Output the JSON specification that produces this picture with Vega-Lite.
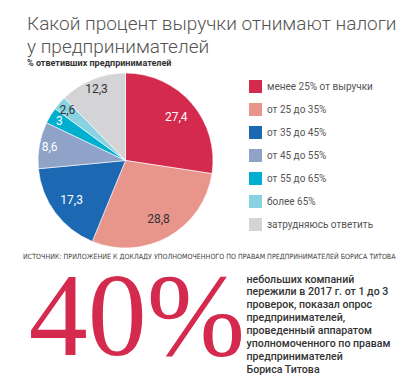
{
  "$schema": "https://vega.github.io/schema/vega-lite/v6.json",
  "padding": {"left": 23, "top": 14, "right": 6, "bottom": 2},
  "background": "white",
  "config": {
    "view": {"stroke": null},
    "locale": {"number": {"decimal": ",", "thousands": "\u00a0", "grouping": [3], "currency": ["", ""]}},
    "font": "Roboto"
  },
  "resolve": {"scale": {"color": "independent"}, "legend": {"color": "independent"}},
  "title": {
    "text": ["Какой процент выручки отнимают налоги", "у предпринимателей"],
    "subtitle": "% ответивших предпринимателей",
    "anchor": "start",
    "dx": 4,
    "font": "Roboto",
    "fontSize": 19,
    "fontWeight": 300,
    "color": "#555555",
    "lineHeight": 23,
    "subtitleFont": "Roboto",
    "subtitleFontSize": 9,
    "subtitleFontWeight": "bold",
    "subtitleColor": "#333333",
    "subtitlePadding": 2,
    "offset": 4
  },
  "vconcat": [
    {
      "width": 205,
      "height": 175,
      "data": {
        "values": [
          {"n": 1, "cat": "менее 25% от выручки", "value": 27.4},
          {"n": 2, "cat": "от 25 до 35%", "value": 28.8},
          {"n": 3, "cat": "от 35 до 45%", "value": 17.3},
          {"n": 4, "cat": "от 45 до 55%", "value": 8.6},
          {"n": 5, "cat": "от 55 до 65%", "value": 3},
          {"n": 6, "cat": "более 65%", "value": 2.6},
          {"n": 7, "cat": "затрудняюсь ответить", "value": 12.3}
        ]
      },
      "encoding": {
        "theta": {"field": "value", "type": "quantitative", "stack": true},
        "order": {"field": "n", "type": "quantitative"}
      },
      "layer": [
        {
          "mark": {"type": "arc", "stroke": "white", "strokeWidth": 0.6},
          "encoding": {
            "color": {
              "field": "cat",
              "type": "nominal",
              "sort": null,
              "scale": {
                "domain": ["менее 25% от выручки", "от 25 до 35%", "от 35 до 45%", "от 45 до 55%", "от 55 до 65%", "более 65%", "затрудняюсь ответить"],
                "range": ["#d42a4e", "#e8958b", "#1c68b3", "#8fa3c8", "#00aed0", "#88d2e2", "#d4d4d6"]
              },
              "legend": {
                "title": null,
                "orient": "right",
                "offset": 14,
                "padding": 7,
                "symbolType": "square",
                "symbolSize": 169,
                "symbolStrokeWidth": 0,
                "symbolOpacity": 1,
                "labelFontSize": 10,
                "labelFont": "Roboto",
                "labelColor": "#555555",
                "labelOffset": 5,
                "rowPadding": 10
              }
            }
          }
        },
        {
          "mark": {"type": "text", "radius": 67, "fontSize": 12, "font": "Roboto"},
          "encoding": {
            "text": {"condition": {"test": "datum.value >= 15", "field": "value", "type": "quantitative", "format": ".1~f"}, "value": ""},
            "color": {"condition": {"test": "datum.cat == 'от 25 до 35%' || datum.cat == 'более 65%' || datum.cat == 'затрудняюсь ответить'", "value": "#333333"}, "value": "white"}
          }
        },
        {
          "mark": {"type": "text", "radius": 77, "fontSize": 12, "font": "Roboto"},
          "encoding": {
            "text": {"condition": {"test": "datum.value < 15", "field": "value", "type": "quantitative", "format": ".1~f"}, "value": ""},
            "color": {"condition": {"test": "datum.cat == 'от 25 до 35%' || datum.cat == 'более 65%' || datum.cat == 'затрудняюсь ответить'", "value": "#333333"}, "value": "white"}
          }
        }
      ]
    },
    {
      "title": {
        "text": "ИСТОЧНИК: ПРИЛОЖЕНИЕ К ДОКЛАДУ УПОЛНОМОЧЕННОГО ПО ПРАВАМ ПРЕДПРИНИМАТЕЛЕЙ БОРИСА ТИТОВА",
        "anchor": "start",
        "font": "DejaVu Sans Condensed",
        "fontSize": 7.05,
        "fontWeight": "normal",
        "color": "#444444",
        "offset": 0
      },
      "spacing": 0,
      "hconcat": [
        {
          "width": 216,
          "height": 91,
          "data": {"values": [{"t": "40%"}]},
          "mark": {"type": "text", "font": "Liberation Serif", "fontSize": 118, "color": "#d42a4e", "align": "center", "baseline": "middle", "dx": 6},
          "encoding": {"text": {"field": "t", "type": "nominal"}}
        },
        {
          "width": 1,
          "height": 1,
          "data": {"values": [{"t": "небольших компаний\nпережили в 2017 г. от 1 до 3\nпроверок, показал опрос\nпредпринимателей,\nпроведенный аппаратом\nуполномоченного по правам\nпредпринимателей\nБориса Титова"}]},
          "mark": {"type": "text", "font": "Roboto", "fontSize": 10.6, "fontWeight": 500, "color": "#333333", "align": "left", "baseline": "top", "lineBreak": "\n", "lineHeight": 12.9},
          "encoding": {"text": {"field": "t", "type": "nominal"}}
        }
      ]
    }
  ],
  "spacing": 3
}
